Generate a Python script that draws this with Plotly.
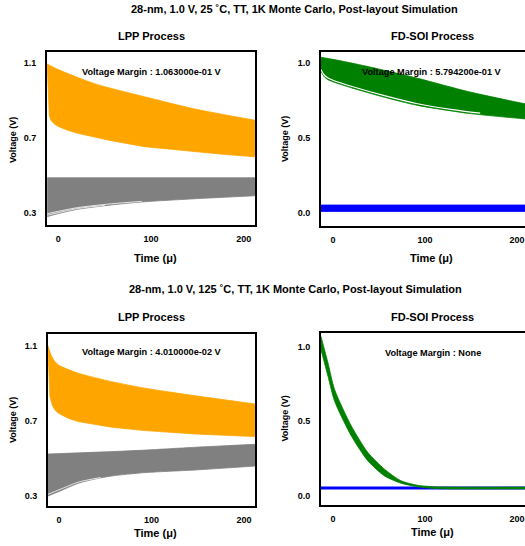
import plotly.graph_objects as go

OFF = 0
W, H = 525, 546
FONT = "Liberation Sans, Arial, sans-serif"

# ---------------- data ----------------
# Top-left: LPP 25C
tl_or_up_t = [-12, 0, 39, 93, 147, 212]
tl_or_up_v = [1.095, 1.065, 0.99, 0.92, 0.855, 0.795]
tl_or_lo_t = [-12, -11.2, -10.5, -9.7, -8, -6, -4.3, 0, 10, 20.9, 40, 57, 93, 120, 147, 180, 212]
tl_or_lo_v = [1.095, 1.0, 0.88, 0.82, 0.795, 0.783, 0.775, 0.762, 0.742, 0.725, 0.703, 0.686, 0.654, 0.64, 0.627, 0.612, 0.60]
tl_gr_up_t = [-12, 212]
tl_gr_up_v = [0.488, 0.488]
tl_gr_lo_t = [-12, 0, 20.9, 57, 93, 147, 212]
tl_gr_lo_v = [0.281, 0.297, 0.32, 0.343, 0.36, 0.376, 0.392]
tl_gr_w1_t = [-12, 0, 20.9, 57, 90]
tl_gr_w1_v = [0.296, 0.309, 0.329, 0.349, 0.362]
tl_gr_w2_t = [-12, 0, 20.9, 50]
tl_gr_w2_v = [0.288, 0.302, 0.324, 0.341]

# Top-right: FD-SOI 25C
tr_gn_up_t = [-13, 0, 38, 92, 147, 209]
tr_gn_up_v = [1.038, 1.024, 0.976, 0.898, 0.809, 0.727]
tr_gn_lo_t = [-13, -10, -5.4, 0, 20, 56, 92, 147, 209]
tr_gn_lo_v = [0.945, 0.912, 0.888, 0.874, 0.834, 0.771, 0.717, 0.664, 0.627]
tr_gn_w_t = [-13, -10, -5.4, 0, 20, 56, 92, 130, 160]
tr_gn_w_v = [0.957, 0.923, 0.899, 0.885, 0.845, 0.782, 0.728, 0.689, 0.665]
tr_bl_up_t = [-13, 209]
tr_bl_up_v = [0.053, 0.053]
tr_bl_lo_t = [-13, 209]
tr_bl_lo_v = [0.01, 0.01]

# Bottom-left: LPP 125C
bl_or_up_t = [-12, -8, -4.3, 0, 20.9, 57, 93, 147, 212]
bl_or_up_v = [1.10, 1.045, 1.015, 0.995, 0.953, 0.908, 0.873, 0.833, 0.789]
bl_or_lo_t = [-12, -11.2, -10.5, -9.7, -7, -4.3, 0, 10, 20.9, 40, 57, 93, 147, 212]
bl_or_lo_v = [1.10, 1.0, 0.9, 0.828, 0.78, 0.757, 0.738, 0.713, 0.695, 0.677, 0.665, 0.647, 0.629, 0.615]
bl_gr_up_t = [-12, 57, 93, 147, 212]
bl_gr_up_v = [0.522, 0.535, 0.543, 0.558, 0.574]
bl_gr_lo_t = [-12, 0, 20.9, 40, 57, 93, 147, 212]
bl_gr_lo_v = [0.298, 0.322, 0.366, 0.39, 0.405, 0.423, 0.437, 0.458]
bl_gr_w_t = [-12, 0, 20.9, 45]
bl_gr_w_v = [0.307, 0.331, 0.372, 0.397]

# Bottom-right: FD-SOI 125C
br_gn_up_t = [-13, -5.4, 1.8, 20, 38, 56, 74, 92, 110, 128, 209]
br_gn_up_v = [1.067, 0.889, 0.711, 0.467, 0.289, 0.178, 0.1, 0.07, 0.06, 0.058, 0.058]
br_gn_lo_t = [-13, -5.4, 1.8, 20, 38, 56, 74, 92, 110, 128, 209]
br_gn_lo_v = [0.978, 0.8, 0.633, 0.4, 0.233, 0.133, 0.084, 0.06, 0.049, 0.046, 0.046]
br_bl_t = [-13, 209]
br_bl_v = [0.052, 0.052]

x_ticks = [0, 100, 200]
lpp_y_ticks = [0.3, 0.7, 1.1]
fd_y_ticks = [0.0, 0.5, 1.0]

main_titles = ["28-nm, 1.0 V, 25 \u02daC, TT, 1K Monte Carlo, Post-layout Simulation",
               "28-nm, 1.0 V, 125 \u02daC, TT, 1K Monte Carlo, Post-layout Simulation"]
panel_titles = ["LPP Process", "FD-SOI Process", "LPP Process", "FD-SOI Process"]
margin_texts = ["Voltage Margin : 1.063000e-01 V", "Voltage Margin : 5.794200e-01 V",
                "Voltage Margin : 4.010000e-02 V", "Voltage Margin : None"]

ORANGE = "#FFA500"
GRAY = "#808080"
GREEN = "#008000"
BLUE = "#0000FF"

fig = go.Figure()


def band(xa, ya, lo_t, lo_v, up_t, up_v, color, shape_lo="spline", shape_up="spline"):
    fig.add_trace(go.Scatter(x=lo_t, y=lo_v, mode="lines", xaxis=xa, yaxis=ya,
                             line=dict(color=color, width=0.8, shape=shape_lo, smoothing=0.7),
                             showlegend=False, hoverinfo="skip"))
    fig.add_trace(go.Scatter(x=up_t, y=up_v, mode="lines", xaxis=xa, yaxis=ya,
                             line=dict(color=color, width=0.8, shape=shape_up, smoothing=0.7),
                             fill="tonexty", fillcolor=color,
                             showlegend=False, hoverinfo="skip"))


def strand(xa, ya, t, v, color, width):
    fig.add_trace(go.Scatter(x=t, y=v, mode="lines", xaxis=xa, yaxis=ya,
                             line=dict(color=color, width=width, shape="spline", smoothing=0.7),
                             showlegend=False, hoverinfo="skip"))


# top-left
band("x", "y", tl_or_lo_t, tl_or_lo_v, tl_or_up_t, tl_or_up_v, ORANGE, shape_lo="linear")
band("x", "y", tl_gr_lo_t, tl_gr_lo_v, tl_gr_up_t, tl_gr_up_v, GRAY)
strand("x", "y", tl_gr_w1_t, tl_gr_w1_v, "white", 0.8)
strand("x", "y", tl_gr_w2_t, tl_gr_w2_v, "white", 0.8)
# top-right
band("x2", "y2", tr_gn_lo_t, tr_gn_lo_v, tr_gn_up_t, tr_gn_up_v, GREEN)
strand("x2", "y2", tr_gn_w_t, tr_gn_w_v, "white", 1.2)
band("x2", "y2", tr_bl_lo_t, tr_bl_lo_v, tr_bl_up_t, tr_bl_up_v, BLUE, "linear", "linear")
# bottom-left
band("x3", "y3", bl_or_lo_t, bl_or_lo_v, bl_or_up_t, bl_or_up_v, ORANGE, shape_lo="linear")
band("x3", "y3", bl_gr_lo_t, bl_gr_lo_v, bl_gr_up_t, bl_gr_up_v, GRAY)
strand("x3", "y3", bl_gr_w_t, bl_gr_w_v, "white", 0.8)
# bottom-right
strand("x4", "y4", br_bl_t, br_bl_v, BLUE, 3)
band("x4", "y4", br_gn_lo_t, br_gn_lo_v, br_gn_up_t, br_gn_up_v, GREEN)


def px(x):
    return min(1.0, (x - OFF) / W)


def py(y):
    return 1 - (y - OFF) / H


tick_font = dict(family=FONT, size=9, color="black", weight="bold")


def xaxis(dom, rng, mirror):
    return dict(domain=dom, range=rng, tickvals=x_ticks, showgrid=False, zeroline=False,
                showline=True, linecolor="black", linewidth=2, mirror=mirror,
                ticks="outside", ticklen=4, tickcolor="rgba(0,0,0,0)",
                tickfont=tick_font, fixedrange=True)


def yaxis(dom, rng, ticks, mirror, fmt):
    return dict(domain=dom, range=rng, tickvals=ticks, tickformat=fmt, showgrid=False,
                zeroline=False, showline=True, linecolor="black", linewidth=2, mirror=mirror,
                ticks="outside", ticklen=7, tickcolor="rgba(0,0,0,0)",
                tickfont=tick_font, fixedrange=True)


fig.update_layout(
    width=W, height=H, margin=dict(l=0, r=0, t=0, b=0),
    paper_bgcolor="white", plot_bgcolor="white", showlegend=False,
    xaxis=xaxis([px(47), px(255)], [-12.2, 212], True),
    yaxis=yaxis([py(225), py(52)], [0.236, 1.159], lpp_y_ticks, True, ".1f"),
    xaxis2=xaxis([px(321), 1.0], [-13, 208.7], True),
    yaxis2=yaxis([py(226), py(52)], [-0.087, 1.073], fd_y_ticks, False, ".1f"),
    xaxis3=xaxis([px(48), px(255)], [-11.8, 211.8], True),
    yaxis3=yaxis([py(506), py(334)], [0.245, 1.162], lpp_y_ticks, True, ".1f"),
    xaxis4=xaxis([px(321), 1.0], [-13, 208.7], True),
    yaxis4=yaxis([py(505), py(333)], [-0.062, 1.09], fd_y_ticks, False, ".1f"),
)
for i in range(2, 5):
    fig.layout[f"yaxis{i}"].anchor = f"x{i}"
    fig.layout[f"xaxis{i}"].anchor = f"y{i}"


def note(text, x, y, size, angle=0):
    fig.add_annotation(text=text, x=px(x), y=py(y), xref="paper", yref="paper",
                       showarrow=False, textangle=angle, xanchor="center", yanchor="middle",
                       font=dict(family=FONT, size=size, color="black", weight="bold"))


note(main_titles[0], 294, 9, 11)
note(main_titles[1], 295, 289, 11)
note(panel_titles[0], 151.5, 36, 11)
note(panel_titles[1], 432, 36, 11)
note(panel_titles[2], 151.5, 316.5, 11)
note(panel_titles[3], 432, 317, 11)
note(margin_texts[0], 152, 72, 9.2)
note(margin_texts[1], 432, 72, 9.2)
note(margin_texts[2], 152, 352, 9.2)
note(margin_texts[3], 432.5, 352.5, 9.2)
note("Time (\u03bc)", 155, 258, 11)
note("Time (\u03bc)", 431, 258, 11)
note("Time (\u03bc)", 155, 533, 11)
note("Time (\u03bc)", 432, 531.5, 11)
note("Voltage (V)", 13, 140, 9, -90)
note("Voltage (V)", 285, 139, 9, -90)
note("Voltage (V)", 13, 420, 9, -90)
note("Voltage (V)", 284.5, 419, 9, -90)

fig.write_html("out.html",
               config={"displayModeBar": False, "staticPlot": True},
               post_script="document.body.style.margin='0px';document.body.style.overflow='hidden';")
